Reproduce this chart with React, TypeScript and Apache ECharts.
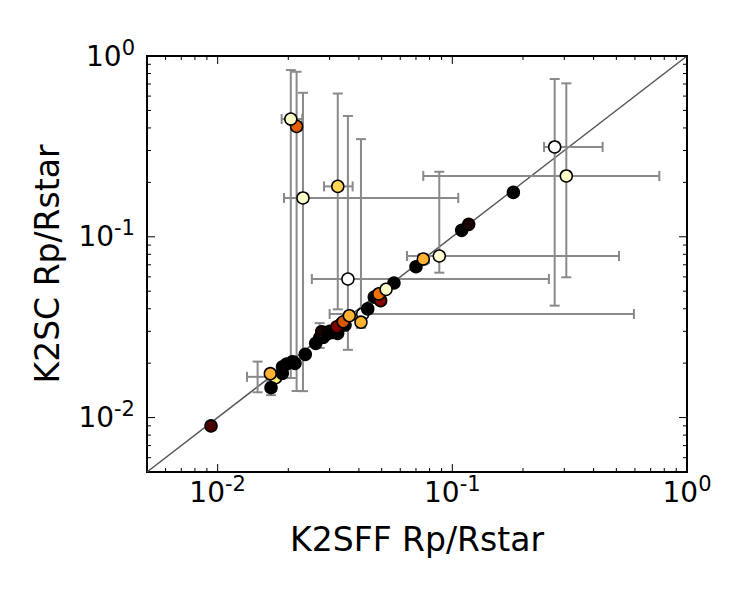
import React, { useEffect, useRef } from "react";
import * as echarts from "echarts";

// ---- data ----
// scatter points: K2SFF Rp/Rstar (x), K2SC Rp/Rstar (y), colour value (0 = black ... 1 = white)
const pointK2SFF = [
  0.01767, 0.01677, 0.01688, 0.01886, 0.0189, 0.01968, 0.02088, 0.02136, 0.02363, 0.02617,
  0.0272, 0.0282, 0.02776, 0.02962, 0.03, 0.03247, 0.031, 0.0349, 0.0338, 0.0465,
  0.0564, 0.07, 0.1096, 0.1174, 0.182, 0.00937, 0.0322, 0.0495, 0.0343, 0.0415,
  0.0436, 0.0486, 0.0217, 0.0364, 0.0408, 0.0752, 0.0325, 0.0205, 0.0231, 0.088,
  0.306, 0.0522, 0.273, 0.0359,
];
const pointK2SC = [
  0.01662, 0.01749, 0.01463, 0.01758, 0.0191, 0.01978, 0.02037, 0.01996, 0.02238, 0.02574,
  0.0275, 0.0278, 0.02985, 0.02925, 0.03, 0.02925, 0.0296, 0.0325, 0.0332, 0.0464,
  0.0555, 0.0683, 0.1086, 0.1172, 0.176, 0.00899, 0.0318, 0.0443, 0.0339, 0.0374,
  0.0399, 0.0483, 0.408, 0.0366, 0.0337, 0.0753, 0.19, 0.448, 0.164, 0.0783,
  0.217, 0.0512, 0.314, 0.0584,
];
const pointColorVal = [
  0.72, 0.6, 0, 0, 0, 0, 0, 0, 0, 0,
  0, 0, 0.05, 0, 0, 0, 0, 0, 0, 0,
  0, 0, 0, 0.05, 0, 0.15, 0.25, 0.26, 0.42, 1,
  0, 0.47, 0.44, 0.6, 0.6, 0.6, 0.67, 0.9, 0.9, 0.92,
  0.9, 0.9, 1, 1,
];

// error bars: centre, x range, y range (0 = no bar)
const errK2SFF = [0.0205, 0.0217, 0.0231, 0.0325, 0.0359, 0.0408, 0.0415, 0.088, 0.0752, 0.273, 0.306, 0.0148, 0.01688, 0.0272];
const errK2SC = [0.448, 0.408, 0.164, 0.19, 0.0584, 0.0337, 0.0374, 0.0783, 0.0753, 0.314, 0.217, 0.0168, 0.01463, 0.0275];
const errXLow = [0.01874, 0.0206, 0.01918, 0.0284, 0.0252, 0, 0.03, 0.0641, 0.0715, 0.246, 0.0752, 0.01334, 0, 0];
const errXHigh = [0.02294, 0.0229, 0.106, 0.0376, 0.258, 0, 0.594, 0.513, 0.0795, 0.437, 0.762, 0.0165, 0, 0];
const errYLow = [0.01656, 0.01403, 0.014, 0.0397, 0.0237, 0.0313, 0, 0.0633, 0.0705, 0.0416, 0.0597, 0.0138, 0.0133, 0.0243];
const errYHigh = [0.836, 0.818, 0.626, 0.62, 0.466, 0.347, 0, 0.229, 0.0805, 0.746, 0.706, 0.0204, 0.016, 0.0333];

// axis
const axisMin = 0.005;
const axisMax = 1;
const majorTickVals = [0.01, 0.1, 1];
const minorTickVals = [
  0.006, 0.007, 0.008, 0.009,
  0.02, 0.03, 0.04, 0.05, 0.06, 0.07, 0.08, 0.09,
  0.2, 0.3, 0.4, 0.5, 0.6, 0.7, 0.8, 0.9,
];
const diagonal = [axisMin, axisMax];

const xTitle = "K2SFF Rp/Rstar";
const yTitle = "K2SC Rp/Rstar";

const FONT = "DejaVu Sans";

export default function App() {
  const ref = useRef<HTMLDivElement>(null);

  useEffect(() => {
    if (!ref.current) return;
    const chart = echarts.init(ref.current, undefined, { renderer: "svg" });

    const scatterData = pointK2SFF.map((x, i) => [x, pointK2SC[i], pointColorVal[i]]);
    const errData = errK2SFF.map((x, i) => [x, errK2SC[i], errXLow[i], errXHigh[i], errYLow[i], errYHigh[i]]);
    const tickData = [
      ...majorTickVals.map((v) => [v, 8]),
      ...minorTickVals.map((v) => [v, 4]),
    ];

    const labelFormatter = (val: number) => {
      const e = Math.log10(val);
      const r = Math.round(e);
      if (Math.abs(e - r) > 1e-6) return "";
      return `{b|10}{s|${r}}`;
    };
    const rich = {
      b: { fontSize: 28, fontFamily: FONT, color: "#000", lineHeight: 32, verticalAlign: "middle" },
      s: {
        fontSize: 21,
        fontFamily: FONT,
        color: "#000",
        lineHeight: 21,
        verticalAlign: "middle",
        padding: [0, 0, 17, 0],
      },
    };

    const gray = "#8a8a8a";

    chart.setOption({
      animation: false,
      textStyle: { fontFamily: FONT },
      grid: {
        left: 147,
        top: 56,
        width: 540,
        height: 416,
        show: true,
        borderColor: "#000",
        borderWidth: 2,
        backgroundColor: "#fff",
        containLabel: false,
      },
      xAxis: {
        type: "log",
        logBase: 10,
        min: axisMin,
        max: axisMax,
        splitLine: { show: false },
        axisLine: { show: false },
        axisTick: { show: false },
        axisLabel: { formatter: labelFormatter, rich, margin: 4, showMinLabel: true, showMaxLabel: true },
        name: xTitle,
        nameLocation: "middle",
        nameGap: 51,
        nameTextStyle: { fontSize: 33, color: "#000", fontFamily: FONT },
      },
      yAxis: {
        type: "log",
        logBase: 10,
        min: axisMin,
        max: axisMax,
        splitLine: { show: false },
        axisLine: { show: false },
        axisTick: { show: false },
        axisLabel: { formatter: labelFormatter, rich, margin: 12, showMinLabel: true, showMaxLabel: true },
        name: yTitle,
        nameLocation: "middle",
        nameGap: 83,
        nameTextStyle: { fontSize: 33, color: "#000", fontFamily: FONT },
      },
      visualMap: {
        type: "continuous",
        show: false,
        seriesIndex: 2,
        dimension: 2,
        min: 0,
        max: 1,
        inRange: { color: ["#000000", "#800000", "#ff8000", "#ffff80", "#ffffff"] },
      },
      series: [
        {
          type: "line",
          data: [[diagonal[0], diagonal[0]], [diagonal[1], diagonal[1]]],
          symbol: "none",
          lineStyle: { color: "#555555", width: 1.5 },
          z: 1,
          silent: true,
        },
        {
          type: "custom",
          z: 2,
          silent: true,
          encode: { x: 0, y: 1 },
          data: errData,
          renderItem: (params: any, api: any) => {
            const x = api.value(0);
            const y = api.value(1);
            const xlo = api.value(2);
            const xhi = api.value(3);
            const ylo = api.value(4);
            const yhi = api.value(5);
            const style = { stroke: gray, lineWidth: 2 };
            const cap = 5;
            const children: any[] = [];
            if (xlo > 0 && xhi > 0) {
              const a = api.coord([xlo, y]);
              const b = api.coord([xhi, y]);
              children.push({ type: "line", shape: { x1: a[0], y1: a[1], x2: b[0], y2: b[1] }, style });
              children.push({ type: "line", shape: { x1: a[0], y1: a[1] - cap, x2: a[0], y2: a[1] + cap }, style });
              children.push({ type: "line", shape: { x1: b[0], y1: b[1] - cap, x2: b[0], y2: b[1] + cap }, style });
            }
            if (ylo > 0 && yhi > 0) {
              const a = api.coord([x, ylo]);
              const b = api.coord([x, yhi]);
              children.push({ type: "line", shape: { x1: a[0], y1: a[1], x2: b[0], y2: b[1] }, style });
              children.push({ type: "line", shape: { x1: a[0] - cap, y1: a[1], x2: a[0] + cap, y2: a[1] }, style });
              children.push({ type: "line", shape: { x1: b[0] - cap, y1: b[1], x2: b[0] + cap, y2: b[1] }, style });
            }
            return { type: "group", children };
          },
        },
        {
          type: "scatter",
          z: 3,
          data: scatterData,
          symbol: "circle",
          symbolSize: 12,
          itemStyle: { borderColor: "#000", borderWidth: 1.5, opacity: 1 },
          emphasis: { disabled: true },
        },
        {
          type: "custom",
          z: 4,
          silent: true,
          encode: { x: 0, y: 0 },
          data: tickData,
          renderItem: (params: any, api: any) => {
            const v = api.value(0);
            const len = api.value(1);
            const cs = params.coordSys;
            const px = api.coord([v, axisMin])[0];
            const py = api.coord([axisMin, v])[1];
            const style = { stroke: "#000", lineWidth: 1 };
            const bottom = cs.y + cs.height;
            const right = cs.x + cs.width;
            return {
              type: "group",
              children: [
                { type: "line", shape: { x1: px, y1: bottom, x2: px, y2: bottom - len }, style },
                { type: "line", shape: { x1: px, y1: cs.y, x2: px, y2: cs.y + len }, style },
                { type: "line", shape: { x1: cs.x, y1: py, x2: cs.x + len, y2: py }, style },
                { type: "line", shape: { x1: right, y1: py, x2: right - len, y2: py }, style },
              ],
            };
          },
        },
      ],
    });

    return () => {
      chart.dispose();
    };
  }, []);

  return (
    <div
      ref={ref}
      style={{ position: "fixed", left: 0, top: 0, width: 750, height: 600, background: "#fff" }}
    />
  );
}
